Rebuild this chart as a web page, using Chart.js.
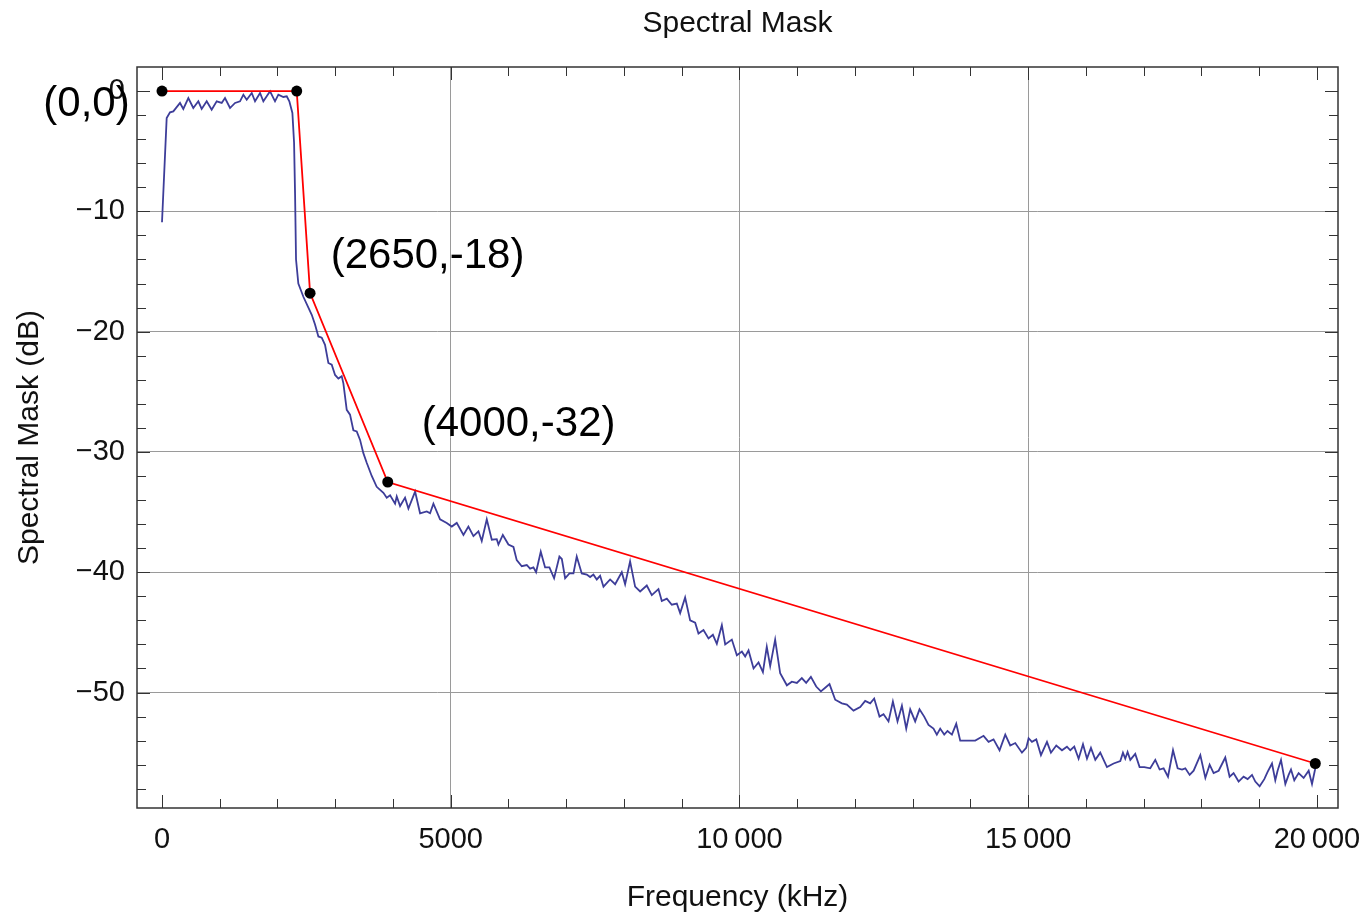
<!DOCTYPE html>
<html>
<head>
<meta charset="utf-8">
<title>Spectral Mask</title>
<style>
  html, body { margin: 0; padding: 0; background: #fff; }
  #wrap { width: 1366px; height: 913px; }
</style>
<script src="https://cdn.jsdelivr.net/npm/chart.js@4.4.1/dist/chart.umd.min.js"></script>
</head>
<body>
<div id="wrap"><canvas id="maskChart" width="1366" height="913"></canvas></div>
<script>
// mask corner points (red line + black dots)
const maskFreq = [0, 2333, 2564, 3909, 19972];
const maskDb = [0, 0, -16.8, -32.5, -55.9];

const psdFreq = [
  0, 81, 139, 196, 312, 369, 456, 542, 629, 687,
  774, 860, 947, 1034, 1091, 1178, 1265, 1351, 1409, 1467,
  1554, 1611, 1698, 1755, 1871, 1957, 2015, 2101, 2160, 2205,
  2258, 2287, 2304, 2321, 2361, 2448, 2535, 2593, 2650, 2708,
  2766, 2823, 2881, 2939, 2997, 3054, 3112, 3141, 3199, 3256,
  3314, 3372, 3430, 3487, 3545, 3632, 3718, 3834, 3892, 3950,
  4036, 4065, 4123, 4209, 4267, 4383, 4469, 4585, 4642, 4700,
  4815, 4931, 5018, 5104, 5220, 5306, 5393, 5480, 5537, 5624,
  5711, 5797, 5826, 5902, 5999, 6086, 6143, 6230, 6317, 6374,
  6432, 6478, 6559, 6634, 6709, 6790, 6882, 6924, 6981, 7056,
  7125, 7182, 7269, 7356, 7414, 7471, 7529, 7587, 7645, 7760,
  7847, 7962, 8020, 8106, 8193, 8280, 8395, 8482, 8597, 8655,
  8742, 8828, 8915, 8973, 9059, 9146, 9233, 9290, 9377, 9464,
  9540, 9608, 9695, 9753, 9868, 9955, 10042, 10099, 10157, 10244,
  10330, 10406, 10473, 10532, 10618, 10705, 10821, 10907, 10994, 11080,
  11155, 11237, 11329, 11410, 11485, 11559, 11658, 11774, 11860, 11975,
  12091, 12177, 12264, 12333, 12425, 12495, 12581, 12657, 12737, 12813,
  12888, 12957, 13043, 13118, 13199, 13274, 13360, 13418, 13476, 13546,
  13603, 13679, 13754, 13823, 13939, 14083, 14227, 14314, 14400, 14504,
  14603, 14689, 14776, 14892, 14966, 15007, 15065, 15140, 15221, 15325,
  15394, 15486, 15585, 15671, 15729, 15798, 15873, 15949, 16018, 16087,
  16162, 16248, 16364, 16479, 16595, 16641, 16681, 16721, 16768, 16854,
  16929, 17010, 17114, 17201, 17276, 17345, 17421, 17508, 17588, 17664,
  17721, 17796, 17865, 17981, 18068, 18142, 18211, 18298, 18413, 18488,
  18557, 18644, 18730, 18800, 18876, 18933, 19008, 19089, 19146, 19222,
  19279, 19319, 19378, 19453, 19510, 19551, 19608, 19683, 19770, 19857,
  19915, 19972
];
const psdDb = [
  -10.9, -2.24, -1.77, -1.69, -0.99, -1.49, -0.58, -1.41, -0.85, -1.49,
  -0.85, -1.55, -0.85, -0.99, -0.58, -1.41, -0.99, -0.85, -0.30, -0.72,
  -0.16, -0.85, -0.16, -0.85, -0.02, -0.85, -0.30, -0.49, -0.44, -0.85,
  -1.82, -4.3, -8.5, -14.0, -16.0, -17.1, -18.0, -18.6, -19.4, -20.4,
  -20.5, -21.1, -22.6, -22.75, -23.6, -23.9, -23.7, -24.3, -26.5, -26.9,
  -28.2, -28.3, -29.0, -30.1, -30.9, -32.0, -32.9, -33.4, -33.8, -33.6,
  -34.3, -33.7, -34.5, -33.8, -34.7, -33.3, -35.1, -34.95, -35.1, -34.3,
  -35.6, -35.9, -36.2, -35.9, -36.9, -36.2, -37.0, -36.6, -37.4, -35.6,
  -37.3, -37.25, -37.7, -36.9, -37.7, -37.9, -39.0, -39.5, -39.4, -39.7,
  -39.6, -40.0, -38.3, -39.6, -39.6, -40.5, -38.7, -38.9, -40.5, -40.1,
  -40.1, -38.7, -40.1, -40.2, -40.4, -40.2, -40.6, -40.3, -41.2, -40.6,
  -41.0, -40.0, -41.0, -39.1, -41.2, -41.6, -41.1, -41.9, -41.4, -42.4,
  -42.2, -42.7, -42.6, -43.4, -42.1, -44.0, -44.2, -45.1, -44.8, -45.5,
  -45.2, -45.95, -44.4, -46.0, -45.6, -46.9, -46.6, -47.0, -46.5, -48.0,
  -47.5, -48.3, -46.2, -47.8, -45.6, -48.4, -49.4, -49.1, -49.2, -48.8,
  -49.2, -48.7, -49.5, -49.9, -49.6, -49.3, -50.6, -50.9, -51.0, -51.5,
  -51.2, -50.7, -50.9, -50.5, -52.0, -51.8, -52.4, -50.75, -52.4, -51.1,
  -53.0, -51.4, -52.4, -51.4, -52.0, -52.7, -53.0, -53.5, -53.0, -53.5,
  -53.2, -53.5, -52.6, -54.0, -54.0, -54.0, -53.6, -54.1, -53.9, -54.8,
  -53.5, -54.4, -54.2, -55.0, -54.6, -53.8, -54.1, -53.9, -55.2, -54.1,
  -55.0, -54.4, -54.8, -54.5, -54.8, -54.5, -55.5, -54.3, -55.5, -54.6,
  -55.6, -55.0, -56.2, -55.9, -55.7, -55.0, -55.5, -54.95, -55.6, -55.1,
  -56.2, -56.2, -56.3, -55.6, -56.4, -56.3, -57.0, -54.8, -56.3, -56.4,
  -56.3, -56.85, -56.5, -55.2, -57.1, -56.0, -56.7, -56.5, -55.4, -57.0,
  -56.7, -57.4, -57.0, -57.2, -56.85, -57.4, -57.8, -57.2, -56.6, -55.9,
  -57.3, -56.5, -55.6, -57.6, -56.85, -56.4, -57.3, -56.7, -57.1, -56.5,
  -57.6, -56.3
];

// axis ticks
const xMajorTicks = [0, 5000, 10000, 15000, 20000];
const xTickLabels = ['0', '5000', '10\u2009000', '15\u2009000', '20\u2009000'];
const yMajorTicks = [0, -10, -20, -30, -40, -50];
const yTickLabels = ['0', '\u221210', '\u221220', '\u221230', '\u221240', '\u221250'];

// point labels written on the plot
const pointLabels = ['(0,0)', '(2650,-18)', '(4000,-32)'];
const pointLabelAt = [[-1308, -1.11], [4599, -13.73], [6175, -27.68]];

const FONT = "'Liberation Sans', Arial, sans-serif";
const INK = '#111';

const toXY = (xs, ys) => xs.map((v, i) => ({x: v, y: ys[i]}));

// Mathematica-style frame: inward major/minor ticks on all 4 sides + text labels
const frameTicks = {
  id: 'frameTicks',
  afterDraw(chart) {
    const {ctx, chartArea: a, scales: {x, y}} = chart;
    ctx.save();
    ctx.strokeStyle = '#333';
    ctx.lineWidth = 1;
    ctx.beginPath();
    for (let f = 0; f <= 20000; f += 1000) {
      const px = Math.round(x.getPixelForValue(f)) + 0.5;
      const len = xMajorTicks.includes(f) ? 13 : 9;
      ctx.moveTo(px, a.bottom); ctx.lineTo(px, a.bottom - len);
      ctx.moveTo(px, a.top); ctx.lineTo(px, a.top + len);
    }
    for (let d = 0; d >= -58; d -= 2) {
      const py = Math.round(y.getPixelForValue(d)) + 0.5;
      const len = yMajorTicks.includes(d) ? 13 : 9;
      ctx.moveTo(a.left, py); ctx.lineTo(a.left + len, py);
      ctx.moveTo(a.right, py); ctx.lineTo(a.right - len, py);
    }
    ctx.stroke();
    ctx.lineWidth = 1.5;
    ctx.strokeRect(a.left, a.top, a.right - a.left, a.bottom - a.top);

    ctx.fillStyle = '#000';
    ctx.font = '42px ' + FONT;
    ctx.textAlign = 'center';
    ctx.textBaseline = 'middle';
    pointLabels.forEach((t, i) => {
      const [f, d] = pointLabelAt[i];
      ctx.fillText(t, x.getPixelForValue(f), y.getPixelForValue(d));
    });
    ctx.restore();
  }
};

const ctx = document.getElementById('maskChart').getContext('2d');
new Chart(ctx, {
  type: 'scatter',
  data: {
    datasets: [
      {
        label: 'Mask',
        data: toXY(maskFreq, maskDb),
        showLine: true,
        borderColor: '#ff0000',
        borderWidth: 1.8,
        pointRadius: 5.5,
        pointBackgroundColor: '#000',
        pointBorderColor: '#000',
        pointBorderWidth: 0,
        tension: 0
      },
      {
        label: 'Spectrum',
        data: toXY(psdFreq, psdDb),
        showLine: true,
        borderColor: 'rgb(61,61,153)',
        borderWidth: 1.8,
        pointRadius: 0,
        tension: 0
      }
    ]
  },
  options: {
    responsive: false,
    animation: false,
    devicePixelRatio: 1,
    layout: {padding: {left: 0, right: 28, top: 0, bottom: 0}},
    plugins: {
      legend: {display: false},
      tooltip: {enabled: false},
      title: {
        display: true,
        fullSize: false,
        text: 'Spectral Mask',
        color: INK,
        font: {family: FONT, size: 30, weight: 'normal'},
        padding: {top: 6, bottom: 25}
      }
    },
    scales: {
      x: {
        type: 'linear',
        min: -433,
        max: 20365,
        afterBuildTicks: s => { s.ticks = xMajorTicks.map(v => ({value: v})); },
        afterFit: s => { s.height = 105; s.paddingLeft = 0; s.paddingRight = 0; },
        border: {display: false},
        grid: {
          drawTicks: false,
          lineWidth: 1,
          color: c => (c.tick && (c.tick.value === 0 || c.tick.value === 20000)) ? 'rgba(0,0,0,0)' : '#9a9a9a'
        },
        ticks: {
          padding: 15,
          color: INK,
          maxRotation: 0,
          autoSkip: false,
          font: {family: FONT, size: 29},
          callback: v => xTickLabels[xMajorTicks.indexOf(v)]
        },
        title: {
          display: true,
          text: 'Frequency (kHz)',
          color: INK,
          font: {family: FONT, size: 30, lineHeight: 1.0},
          padding: {top: 0, bottom: 0}
        }
      },
      y: {
        type: 'linear',
        min: -59.6,
        max: 2.0,
        afterBuildTicks: s => { s.ticks = yMajorTicks.map(v => ({value: v})); },
        afterFit: s => { s.width = 137; s.paddingTop = 0; s.paddingBottom = 0; },
        border: {display: false},
        grid: {
          drawTicks: false,
          lineWidth: 1,
          color: c => (c.tick && c.tick.value === 0) ? 'rgba(0,0,0,0)' : '#9a9a9a'
        },
        ticks: {
          padding: 12,
          color: INK,
          autoSkip: false,
          font: {family: FONT, size: 29},
          callback: v => yTickLabels[yMajorTicks.indexOf(v)]
        },
        title: {
          display: true,
          text: 'Spectral Mask (dB)',
          color: INK,
          font: {family: FONT, size: 30},
          padding: {top: 12, bottom: 0}
        }
      }
    }
  },
  plugins: [frameTicks]
});
</script>
</body>
</html>
